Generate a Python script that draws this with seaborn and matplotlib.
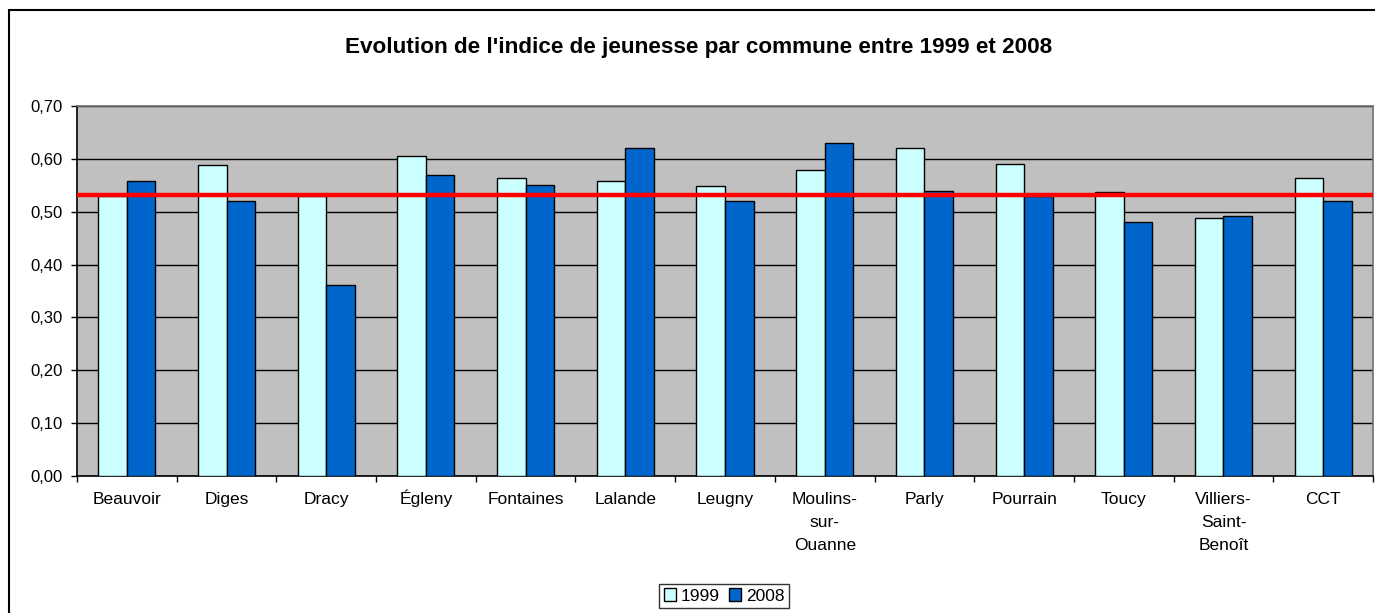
import matplotlib
matplotlib.use("Agg")
import matplotlib.pyplot as plt
from matplotlib.lines import Line2D
from matplotlib.transforms import ScaledTranslation
import seaborn as sns
import pandas as pd
import numpy as np

communes = ["Beauvoir", "Diges", "Dracy", "Égleny", "Fontaines", "Lalande", "Leugny",
            "Moulins-\nsur-\nOuanne", "Parly", "Pourrain", "Toucy",
            "Villiers-\nSaint-\nBenoît", "CCT"]
v1999 = [0.530, 0.589, 0.530, 0.605, 0.564, 0.559, 0.548, 0.578, 0.621, 0.591, 0.537, 0.489, 0.564]
v2008 = [0.559, 0.521, 0.361, 0.569, 0.550, 0.621, 0.521, 0.630, 0.540, 0.530, 0.480, 0.491, 0.521]
years = ["1999", "2008"]
reference = 0.532
yticks = [0.0, 0.1, 0.2, 0.3, 0.4, 0.5, 0.6, 0.7]
ytick_labels = ["0,00", "0,10", "0,20", "0,30", "0,40", "0,50", "0,60", "0,70"]
title = "Evolution de l'indice de jeunesse par commune entre 1999 et 2008"

df = pd.DataFrame({
    "commune": communes * 2,
    "year": [years[0]] * len(communes) + [years[1]] * len(communes),
    "value": v1999 + v2008,
})

sns.set_style("white")
plt.rcParams["font.family"] = ["Liberation Sans", "DejaVu Sans"]
plt.rcParams["text.color"] = "black"
plt.rcParams["xtick.color"] = "black"
plt.rcParams["ytick.color"] = "black"
plt.rcParams["axes.labelcolor"] = "black"

W, H = 1375, 613
fig = plt.figure(figsize=(W / 100, H / 100), dpi=100)
L, R, T, B = 77, 1373, 106, 476
ax = fig.add_axes([L / W, 1 - B / H, (R - L) / W, (B - T) / H])
ax.set_facecolor("#C0C0C0")

sns.barplot(data=df, x="commune", y="value", hue="year", order=communes,
            hue_order=years, palette=["#CCFFFF", "#0066CC"], saturation=1,
            width=0.572, gap=0, edgecolor="black", linewidth=1.0, ax=ax, zorder=3)

ax.set_xlim(-0.5, len(communes) - 0.5)
ax.set_ylim(0, 0.7)
ax.set_yticks(yticks)
ax.set_yticklabels(ytick_labels, fontsize=12)
ax.yaxis.grid(True, color="black", linewidth=1.0, zorder=1)
ax.set_axisbelow(True)
ax.tick_params(axis="y", length=4.5, width=1, color="black", pad=6, left=True)

ax.set_xticks(range(len(communes)))
ax.set_xticklabels(communes, fontsize=12.5, linespacing=1.65, va="top")
ax.tick_params(axis="x", which="major", length=0, pad=11.5)
ax.set_xticks(np.arange(-0.5, len(communes), 1.0), minor=True)
ax.tick_params(axis="x", which="minor", length=4.5, width=1, color="black", bottom=True)

# the accented label would otherwise sit lower than its neighbours
for lbl in ax.get_xticklabels():
    if lbl.get_text().startswith("É"):
        lbl.set_transform(lbl.get_transform() + ScaledTranslation(0, 2 / 72, fig.dpi_scale_trans))

ax.set_xlabel("")
ax.set_ylabel("")

for s in ["left", "bottom"]:
    ax.spines[s].set_color("black")
    ax.spines[s].set_linewidth(1.2)
for s in ["top", "right"]:
    ax.spines[s].set_color("#707070")
    ax.spines[s].set_linewidth(1.2)

ax.axhline(reference, color="#FF0000", linewidth=3.2, zorder=5)

fig.text(699 / W, 1 - 47 / H, title, ha="center", va="center",
         fontsize=16.2, fontweight="bold")

handles, labels = ax.get_legend_handles_labels()
if ax.get_legend() is not None:
    ax.get_legend().remove()
leg = fig.legend(handles, labels, loc="center", bbox_to_anchor=(724 / W, 1 - 596 / H),
                 ncol=2, frameon=True, fancybox=False, edgecolor="black",
                 handlelength=0.7, handleheight=0.7, handletextpad=0.3,
                 columnspacing=0.5, borderpad=0.25, fontsize=12.5, borderaxespad=0)
leg.get_frame().set_linewidth(1.0)

# outer chart border (cropped at right and bottom)
fig.add_artist(Line2D([9 / W, 9 / W], [0, 1 - 10 / H], color="black", linewidth=1.5,
                      transform=fig.transFigure))
fig.add_artist(Line2D([9 / W, 1], [1 - 10 / H, 1 - 10 / H], color="black", linewidth=1.5,
                      transform=fig.transFigure))

fig.savefig("out.png", dpi=100)
